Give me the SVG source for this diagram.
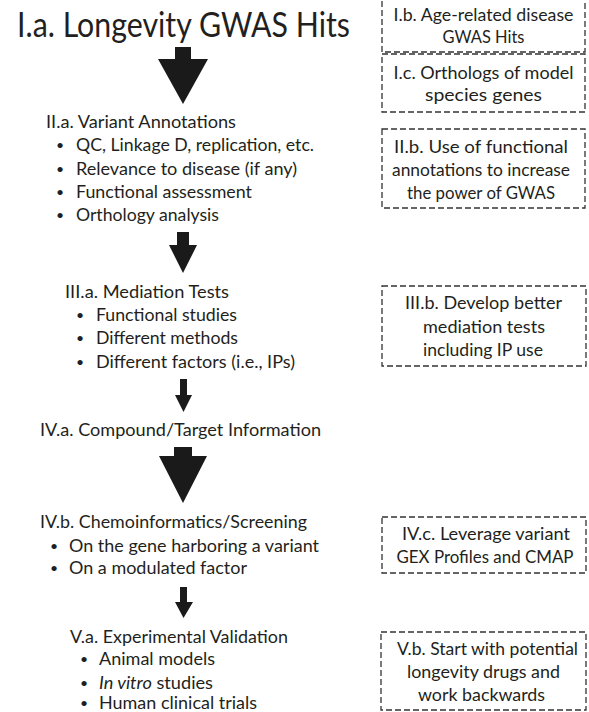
<svg xmlns="http://www.w3.org/2000/svg" width="589" height="712" viewBox="0 0 589 712">
<style>
.t{font-family:Lato,"Open Sans","Liberation Sans",sans-serif;font-size:17px;fill:#231f20}
.b{font-family:Lato,"Open Sans","Liberation Sans",sans-serif;font-size:14px;fill:#231f20}
.c{text-anchor:middle}
.box{fill:none;stroke:#333;stroke-width:1.3;stroke-dasharray:6 3}
.arr{fill:#1a1a1a;stroke:none}
</style>
<rect width="589" height="712" fill="#fff"/>
<g id="Ia">
<text class="t" x="17" y="37" style="font-size:34px" textLength="333" lengthAdjust="spacingAndGlyphs">I.a. Longevity GWAS Hits</text>
</g>
<g id="IIa">
<text class="t" x="46" y="128" textLength="190" lengthAdjust="spacingAndGlyphs">II.a. Variant Annotations</text>
<text class="b" x="56" y="150">•</text><text class="t" x="76" y="151" textLength="238" lengthAdjust="spacingAndGlyphs">QC, Linkage D, replication, etc.</text>
<text class="b" x="56" y="174">•</text><text class="t" x="76" y="175" textLength="221" lengthAdjust="spacingAndGlyphs">Relevance to disease (if any)</text>
<text class="b" x="56" y="197">•</text><text class="t" x="76" y="198" textLength="176" lengthAdjust="spacingAndGlyphs">Functional assessment</text>
<text class="b" x="56" y="220">•</text><text class="t" x="76" y="221" textLength="143" lengthAdjust="spacingAndGlyphs">Orthology analysis</text>
</g>
<g id="IIIa">
<text class="t" x="65" y="298" textLength="164" lengthAdjust="spacingAndGlyphs">III.a. Mediation Tests</text>
<text class="b" x="76" y="320">•</text><text class="t" x="96" y="321" textLength="141" lengthAdjust="spacingAndGlyphs">Functional studies</text>
<text class="b" x="76" y="343">•</text><text class="t" x="96" y="344" textLength="142" lengthAdjust="spacingAndGlyphs">Different methods</text>
<text class="b" x="76" y="367">•</text><text class="t" x="96" y="368" textLength="199" lengthAdjust="spacingAndGlyphs">Different factors (i.e., IPs)</text>
</g>
<g id="IVa">
<text class="t" x="40" y="436" textLength="281" lengthAdjust="spacingAndGlyphs">IV.a. Compound/Target Information</text>
</g>
<g id="IVb">
<text class="t" x="40" y="528" textLength="267" lengthAdjust="spacingAndGlyphs">IV.b. Chemoinformatics/Screening</text>
<text class="b" x="50" y="551">•</text><text class="t" x="69" y="552" textLength="250" lengthAdjust="spacingAndGlyphs">On the gene harboring a variant</text>
<text class="b" x="50" y="573">•</text><text class="t" x="69" y="574" textLength="178" lengthAdjust="spacingAndGlyphs">On a modulated factor</text>
</g>
<g id="Va">
<text class="t" x="70" y="643" textLength="218" lengthAdjust="spacingAndGlyphs">V.a. Experimental Validation</text>
<text class="b" x="80" y="664">•</text><text class="t" x="99" y="665" textLength="116" lengthAdjust="spacingAndGlyphs">Animal models</text>
<text class="b" x="80" y="688">•</text><text class="t" x="99" y="689" textLength="114" lengthAdjust="spacingAndGlyphs"><tspan font-style="italic">In vitro</tspan> studies</text>
<text class="b" x="80" y="708">•</text><text class="t" x="99" y="709" textLength="158" lengthAdjust="spacingAndGlyphs">Human clinical trials</text>
</g>
<g id="Ib">
<rect class="box" x="382" y="-1" width="203" height="53"/>
<text class="t c" x="483.5" y="21" textLength="180" lengthAdjust="spacingAndGlyphs">I.b. Age-related disease</text>
<text class="t c" x="483.5" y="43" textLength="82" lengthAdjust="spacingAndGlyphs">GWAS Hits</text>
</g>
<g id="Ic">
<rect class="box" x="382" y="54" width="203" height="58"/>
<text class="t c" x="483.5" y="79" textLength="180" lengthAdjust="spacingAndGlyphs">I.c. Orthologs of model</text>
<text class="t c" x="483.5" y="101" textLength="117" lengthAdjust="spacingAndGlyphs">species genes</text>
</g>
<g id="IIb">
<rect class="box" x="382" y="129" width="203" height="79"/>
<text class="t c" x="481" y="153" textLength="174" lengthAdjust="spacingAndGlyphs">II.b. Use of functional</text>
<text class="t c" x="481" y="176" textLength="178" lengthAdjust="spacingAndGlyphs">annotations to increase</text>
<text class="t c" x="481" y="199" textLength="148" lengthAdjust="spacingAndGlyphs">the power of GWAS</text>
</g>
<g id="IIIb">
<rect class="box" x="382" y="286" width="204" height="80"/>
<text class="t c" x="483.5" y="309" textLength="157" lengthAdjust="spacingAndGlyphs">III.b. Develop better</text>
<text class="t c" x="484" y="333" textLength="122" lengthAdjust="spacingAndGlyphs">mediation tests</text>
<text class="t c" x="483" y="356" textLength="120" lengthAdjust="spacingAndGlyphs">including IP use</text>
</g>
<g id="IVc">
<rect class="box" x="382" y="517" width="204" height="56"/>
<text class="t c" x="486" y="540" textLength="168" lengthAdjust="spacingAndGlyphs">IV.c. Leverage variant</text>
<text class="t c" x="485" y="563" textLength="177" lengthAdjust="spacingAndGlyphs">GEX Profiles and CMAP</text>
</g>
<g id="Vb">
<rect class="box" x="381" y="632" width="205" height="78"/>
<text class="t c" x="487.5" y="655" textLength="181" lengthAdjust="spacingAndGlyphs">V.b. Start with potential</text>
<text class="t c" x="483.5" y="678" textLength="153" lengthAdjust="spacingAndGlyphs">longevity drugs and</text>
<text class="t c" x="481.5" y="701" textLength="127" lengthAdjust="spacingAndGlyphs">work backwards</text>
</g>
<g id="connectors">
<polygon class="arr" points="175,47 191,47 191,59 208,59 183,104 158,59 175,59"/>
<polygon class="arr" points="177,232 189,232 189,245 197,245 183,273 169,245 177,245"/>
<polygon class="arr" points="180,379 187,379 187,395 192,395 183.5,412 175,395 180,395"/>
<polygon class="arr" points="174,447 192,447 192,456 207,456 183,503 159,456 174,456"/>
<polygon class="arr" points="180,587 187,587 187,602 193,602 183.5,618 175,602 180,602"/>
</g>
</svg>
